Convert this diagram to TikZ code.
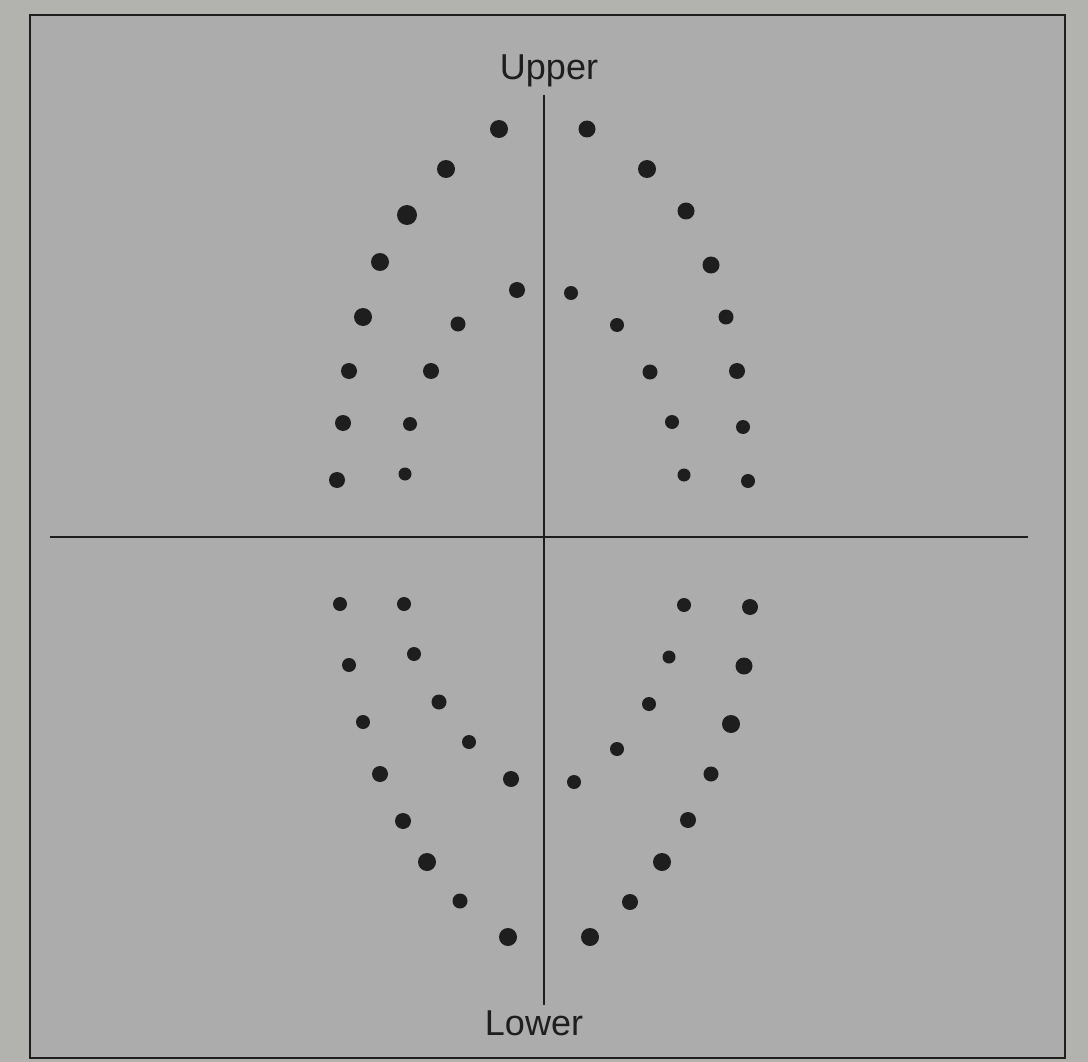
\documentclass[tikz,border=0pt]{standalone}
\usepackage{fontspec}
\setmainfont{Liberation Sans}
\definecolor{paper}{HTML}{B2B2AF}
\definecolor{field}{HTML}{ACACAC}
\definecolor{ink}{HTML}{1E1E1E}
\begin{document}
\begin{tikzpicture}[x=1pt,y=-1pt,
  dot/.style={circle,fill=ink,inner sep=0pt,minimum size=#1},
  dot/.default=16pt,
  rule/.style={draw=ink,line width=1.6pt},
  lab/.style={font=\fontsize{36}{42}\selectfont,text=ink,inner sep=0pt}]
\fill[paper] (0,0) rectangle (1088,1062);
\useasboundingbox (0,0) rectangle (1088,1062);
\filldraw[fill=field,draw=ink,line width=2.8pt] (30,15) rectangle (1065,1058);
% axes
\coordinate (vt) at (544,95);
\coordinate (vb) at (544,1005);
\coordinate (hl) at (50,537);
\coordinate (hr) at (1028,537);
\draw[rule] (vt) -- (vb);
\draw[rule] (hl) -- (hr);
\node[lab,anchor=base] (upper) at (549,80) {Upper};
\node[lab,anchor=base] (lower) at (534,1035) {Lower};
% upper left outer
\foreach \n/\x/\y/\s in {a1/499/129/18,a2/446/169/18,a3/407/215/20,a4/380/262/18,a5/363/317/18,a6/349/371/16,a7/343/423/16,a8/337/480/16}
  \node[dot=\s pt] (\n) at (\x,\y) {};
% upper left inner
\foreach \n/\x/\y/\s in {b1/517/290/16,b2/458/324/15,b3/431/371/16,b4/410/424/14,b5/405/474/13}
  \node[dot=\s pt] (\n) at (\x,\y) {};
% upper right outer
\foreach \n/\x/\y/\s in {c1/587/129/17,c2/647/169/18,c3/686/211/17,c4/711/265/17,c5/726/317/15,c6/737/371/16,c7/743/427/14,c8/748/481/14}
  \node[dot=\s pt] (\n) at (\x,\y) {};
% upper right inner
\foreach \n/\x/\y/\s in {d1/571/293/14,d2/617/325/14,d3/650/372/15,d4/672/422/14,d5/684/475/13}
  \node[dot=\s pt] (\n) at (\x,\y) {};
% lower left outer
\foreach \n/\x/\y/\s in {e1/340/604/14,e2/349/665/14,e3/363/722/14,e4/380/774/16,e5/403/821/16,e6/427/862/18,e7/460/901/15,e8/508/937/18}
  \node[dot=\s pt] (\n) at (\x,\y) {};
% lower left inner
\foreach \n/\x/\y/\s in {f1/404/604/14,f2/414/654/14,f3/439/702/15,f4/469/742/14,f5/511/779/16}
  \node[dot=\s pt] (\n) at (\x,\y) {};
% lower right outer
\foreach \n/\x/\y/\s in {g1/750/607/16,g2/744/666/17,g3/731/724/18,g4/711/774/15,g5/688/820/16,g6/662/862/18,g7/630/902/16,g8/590/937/18}
  \node[dot=\s pt] (\n) at (\x,\y) {};
% lower right inner
\foreach \n/\x/\y/\s in {h1/684/605/14,h2/669/657/13,h3/649/704/14,h4/617/749/14,h5/574/782/14}
  \node[dot=\s pt] (\n) at (\x,\y) {};
\end{tikzpicture}
\end{document}
